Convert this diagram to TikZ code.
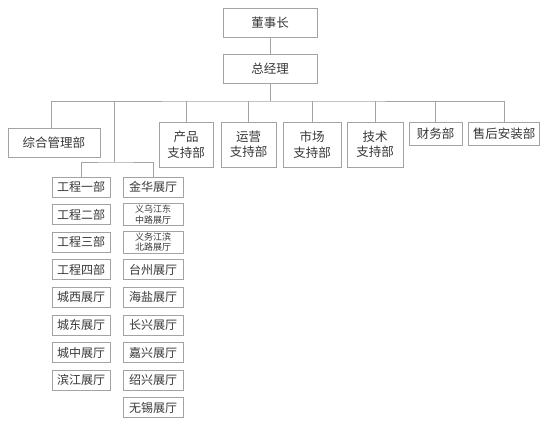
\documentclass[tikz,border=0pt]{standalone}
\usepackage{fontspec}
\setmainfont{Noto Sans CJK SC}
\usetikzlibrary{positioning}
\definecolor{linegray}{HTML}{A3A3A3}
\definecolor{textgray}{HTML}{383838}
\tikzset{
  orgbox/.style={draw=linegray,line width=0.9pt,fill=white,text=textgray,align=center,inner sep=1pt},
  headbox/.style={orgbox,minimum width=94pt,minimum height=29pt,font=\fontsize{12.5}{14}\selectfont},
  deptbox/.style={orgbox,minimum width=56pt,minimum height=45pt,font=\fontsize{12.5}{15.5}\selectfont},
  flatbox/.style={orgbox,minimum width=53pt,minimum height=23pt,inner xsep=4pt,font=\fontsize{12.5}{14}\selectfont},
  unitbox/.style={orgbox,minimum width=58pt,minimum height=20pt,font=\fontsize{12}{13}\selectfont},
  hallbox/.style={orgbox,minimum width=60pt,minimum height=20pt,font=\fontsize{12}{13}\selectfont},
  hallsmall/.style={hallbox,minimum height=22pt,font=\fontsize{9}{10.5}\selectfont},
  link/.style={draw=linegray,line width=0.9pt}
}
\begin{document}
\begin{tikzpicture}[x=1pt,y=-1pt]
\path[use as bounding box,fill=white] (0,0) rectangle (550,428);
% top
\node[headbox] (chair) at (270,22.5) {董事长};
\node[headbox] (gm) at (270,68.5) {总经理};
\coordinate (bus) at (270,101);
\draw[link] (chair) -- (gm);
\draw[link] (gm) -- (bus);
% departments
\node[headbox,minimum width=92pt] (admin) at (54,142.5) {综合管理部};
\node[deptbox,minimum width=54pt] (prod) at (186,144.5) {产品\\支持部};
\node[deptbox,minimum width=55pt] (ops) at (248.5,144.5) {运营\\支持部};
\node[deptbox,minimum width=58pt] (mkt) at (312,144.5) {市场\\支持部};
\node[deptbox] (tech) at (375,144.5) {技术\\支持部};
\node[flatbox] (fin) at (435.5,133.5) {财务部};
\node[flatbox] (svc) at (504,133.5) {售后安装部};
\coordinate (split) at (114,162);
\draw[link] ([xshift=-3pt]admin.north) |- (bus) -| (svc.north);
\foreach \d in {prod,ops,mkt,tech,fin}
  \draw[link] (\d.north) -- (\d.north |- bus);
\draw[link] (split) -- (split |- bus);
% engineering and halls
\foreach \i/\t in {1/工程一部,2/工程二部,3/工程三部,4/工程四部,5/城西展厅,6/城东展厅,7/城中展厅,8/滨江展厅}
  \node[unitbox] (eng\i) at (81,{159.4+27.6*\i}) {\t};
\foreach \i/\s/\t in {1/hallbox/金华展厅,2/hallsmall/{义乌江东\\中路展厅},3/hallsmall/{义务江滨\\北路展厅},4/hallbox/台州展厅,5/hallbox/海盐展厅,6/hallbox/长兴展厅,7/hallbox/嘉兴展厅,8/hallbox/绍兴展厅,9/hallbox/无锡展厅}
  \node[\s] (hall\i) at (153,{159.4+27.6*\i}) {\t};
\draw[link] (eng1.north) |- (split) -| (hall1.north);
\end{tikzpicture}
\end{document}
